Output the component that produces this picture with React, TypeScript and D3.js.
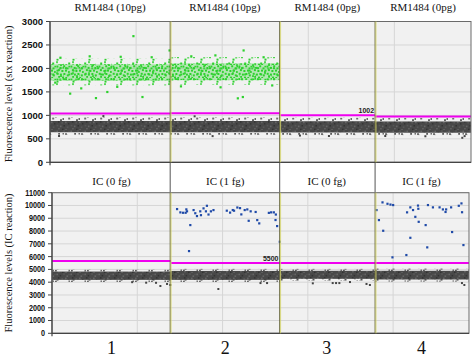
import React from "react";
import * as d3 from "d3";

// ---- data ----
const wellEvents = [6980, 6360, 5540, 5570];
const eventGrid = [5000, 10000, 15000, 20000];
const wellNumbers = ["1", "2", "3", "4"];
const topTitles = ["RM1484 (10pg)", "RM1484 (10pg)", "RM1484 (0pg)", "RM1484 (0pg)"];
const bottomTitles = ["IC (0 fg)", "IC (1 fg)", "IC (0 fg)", "IC (1 fg)"];
const topTicks = [0, 500, 1000, 1500, 2000, 2500, 3000];
const bottomTicks = [0, 1000, 2000, 3000, 4000, 5000, 6000, 7000, 8000, 9000, 10000, 11000];
const topThresholds = [1040, 1045, 1002, 975];
const bottomThresholds = [5650, 5500, 5500, 5500];
const topThresholdLabel = { well: 2, text: "1002" };
const bottomThresholdLabel = { well: 1, text: "5500" };

// negative / positive droplet bands per well [low, high]
const topNegCore: [number, number][] = [[640, 880], [640, 880], [635, 875], [630, 870]];
const topNegSpread: [number, number][] = [[585, 960], [585, 960], [580, 950], [580, 945]];
const topPosCore: ([number, number] | null)[] = [[1740, 2090], [1750, 2110], null, null];
const topPosSpread: ([number, number] | null)[] = [[1640, 2210], [1650, 2240], null, null];
const bottomNegCore: [number, number][] = [[4180, 4830], [4180, 4880], [4260, 4890], [4210, 4890]];
const bottomNegSpread: [number, number][] = [[4020, 4980], [4020, 5040], [4100, 5040], [4050, 5060]];

// individual droplets [event index, amplitude]
const topPosPoints: [number, number][] = [
  [4839, 2690], [6938, 2385], [1166, 1465], [2664, 1370], [3323, 1500], [5364, 1393],
  [1808, 1577], [11238, 2385], [10903, 1365], [11194, 1393], [600, 2230], [2300, 2260],
  [4100, 2250], [5900, 2240], [8200, 2260], [9600, 2280], [12400, 2240], [7600, 1620],
  [9900, 1600], [12900, 1640], [3900, 1610], [300, 1700],
];
const topNegPoints: [number, number][] = [
  [9444, 558], [24079, 558], [23944, 522], [19470, 560], [14517, 570], [525, 560],
  [3100, 985], [8400, 980], [16200, 560], [21800, 555],
];
const bottomPosPoints: [number, number][] = [
  [7328, 9726], [7521, 9468], [7678, 9437], [7830, 9437], [7871, 9703], [7911, 9550],
  [8104, 8474], [8028, 6440], [8296, 9648], [8395, 9400], [8494, 9178], [8687, 9550],
  [8728, 9250], [8879, 9781], [9019, 9550], [9077, 9984], [9171, 9300], [9311, 9550],
  [9462, 9648], [10243, 9600], [10436, 9450], [10593, 9650], [10861, 9850], [10669, 9600],
  [11019, 9800], [11095, 9310], [11293, 9650], [11445, 9700], [11527, 8810], [11643, 9550],
  [11935, 9500], [12028, 8865], [12145, 8607], [12709, 9430], [12843, 9470], [13001, 9470],
  [13118, 9300], [13100, 8870], [13194, 8396], [13351, 7170],
  [19023, 9648], [19163, 8865], [19373, 10250], [19414, 8030], [19665, 10140], [19840, 10080],
  [19997, 10040], [19956, 5950], [20772, 6130], [20813, 9470], [21005, 9860], [21005, 7480],
  [21163, 9650], [21297, 9120], [21454, 10000], [21472, 9750], [21495, 8730], [21903, 8474],
  [21996, 6730], [22037, 10040], [22329, 9860], [22719, 9860], [22912, 9700], [23069, 9500],
  [23104, 9700], [23454, 7930], [23396, 9860], [23845, 9984], [24002, 10170], [24037, 9480],
  [24118, 6910],
];
const bottomNegPoints: [number, number][] = [
  [6355, 3700], [6745, 3860], [6938, 3780], [5521, 3960], [9754, 3466], [12225, 3930],
  [12610, 3930], [15292, 3910], [16458, 3930], [16656, 3930], [16849, 3930], [17472, 4010],
  [18440, 3860], [18639, 3780], [24037, 3930], [24177, 3780], [6100, 3950], [4700, 4000],
];

const W = 474;
const H = 359;
const serif = "'Liberation Serif', 'Times New Roman', serif";
const sans = "'Liberation Sans', Arial, sans-serif";

const totalEvents = d3.sum(wellEvents);
const wellEnds = Array.from(d3.cumsum(wellEvents));
const wellStarts = [0, ...wellEnds.slice(0, -1)];

type PanelProps = {
  id: string;
  x0: number; x1: number; yTop: number; yBot: number; max: number;
  ticks: number[];
  thresholds: number[];
  thLabel: { well: number; text: string };
  negCore: [number, number][];
  negSpread: [number, number][];
  posCore?: ([number, number] | null)[];
  posSpread?: ([number, number] | null)[];
  posPoints: [number, number][];
  negPoints: [number, number][];
  posColor: string;
  tickFont: number;
  tickStretch?: number;
};

function Panel(p: PanelProps) {
  const x = d3.scaleLinear().domain([0, totalEvents]).range([p.x0, p.x1]);
  const y = d3.scaleLinear().domain([0, p.max]).range([p.yBot, p.yTop]);
  return (
    <g>
      <rect x={p.x0} y={p.yTop} width={p.x1 - p.x0} height={p.yBot - p.yTop} fill="#f1f1f1" />
      {p.ticks.slice(1).map((t) => (
        <line key={"h" + t} x1={p.x0} x2={p.x1} y1={y(t)} y2={y(t)} stroke="#d6d6d6" strokeWidth={1} />
      ))}
      {eventGrid.map((e) => (
        <line key={"v" + e} x1={x(e)} x2={x(e)} y1={p.yTop} y2={p.yBot} stroke="#d6d6d6" strokeWidth={1} />
      ))}
      {wellEvents.map((_, i) => (
        <g key={"n" + i}>
          <rect x={x(wellStarts[i])} width={x(wellEnds[i]) - x(wellStarts[i])}
            y={y(p.negSpread[i][1])} height={y(p.negSpread[i][0]) - y(p.negSpread[i][1])}
            fill={`url(#${p.id}negSparse)`} />
          <rect x={x(wellStarts[i])} width={x(wellEnds[i]) - x(wellStarts[i])}
            y={y(p.negCore[i][1])} height={y(p.negCore[i][0]) - y(p.negCore[i][1])}
            fill={`url(#${p.id}negDense)`} />
        </g>
      ))}
      {p.posCore && p.posCore.map((c, i) => c && p.posSpread && p.posSpread[i] ? (
        <g key={"p" + i}>
          <rect x={x(wellStarts[i])} width={x(wellEnds[i]) - x(wellStarts[i])}
            y={y(p.posSpread[i]![1])} height={y(p.posSpread[i]![0]) - y(p.posSpread[i]![1])}
            fill={`url(#${p.id}posSparse)`} />
          <rect x={x(wellStarts[i])} width={x(wellEnds[i]) - x(wellStarts[i])}
            y={y(c[1])} height={y(c[0]) - y(c[1])}
            fill={`url(#${p.id}posDense)`} />
        </g>
      ) : null)}
      {p.negPoints.map((d, i) => (
        <rect key={"np" + i} x={x(d[0]) - 1} y={y(d[1]) - 1} width={2} height={2} fill="#444" />
      ))}
      {p.posPoints.map((d, i) => (
        <rect key={"pp" + i} x={x(d[0]) - 1} y={y(d[1]) - 1} width={2.2} height={2.2} fill={p.posColor} />
      ))}
      {p.thresholds.map((t, i) => (
        <line key={"t" + i} x1={x(wellStarts[i])} x2={x(wellEnds[i])} y1={y(t)} y2={y(t)}
          stroke="#f000f0" strokeWidth={2} />
      ))}
      <text x={x(wellEnds[p.thLabel.well]) - 1} y={y(p.thresholds[p.thLabel.well]) - 2.5}
        textAnchor="end" fontFamily={sans} fontSize={7} fontWeight="bold" fill="#222">{p.thLabel.text}</text>
      <rect x={p.x0} y={p.yTop} width={p.x1 - p.x0} height={p.yBot - p.yTop} fill="none" stroke="#6a6a6a" strokeWidth={1} />
      <line x1={p.x0} x2={p.x0} y1={p.yTop} y2={p.yBot + 3} stroke="#444" strokeWidth={1.2} />
      <line x1={p.x0} x2={p.x1} y1={p.yBot} y2={p.yBot} stroke="#444" strokeWidth={1.2} />
      {p.ticks.map((t) => (
        <g key={"k" + t}>
          <line x1={p.x0 - 4} x2={p.x0} y1={y(t)} y2={y(t)} stroke="#444" strokeWidth={1} />
          <text x={p.x0 - 7} y={y(t)} dy="0.35em" textAnchor="end" fontFamily={sans}
            fontSize={p.tickFont} fontWeight="bold" fill="#111"
            transform={p.tickStretch ? `translate(${p.x0 - 7},0) scale(${p.tickStretch},1) translate(${-(p.x0 - 7)},0)` : undefined}>
            {t}
          </text>
        </g>
      ))}
    </g>
  );
}

// irregular speckle layouts for the droplet-cloud textures (styling only)
const denseSpots: [number, number, number][] = [
  [0.4, 0.6, 2], [3.6, 1.9, 2], [7.2, 0.3, 2], [10.5, 2.4, 2], [1.9, 4.1, 2], [5.4, 5.0, 2],
  [9.0, 4.6, 2], [12.0, 6.1, 1.8], [0.7, 7.8, 2], [3.9, 8.6, 2], [7.4, 8.0, 2], [10.8, 9.4, 2],
  [2.2, 11.0, 1.8], [6.0, 11.6, 2], [12.4, 0.8, 1.6], [9.3, 12.0, 1.8],
];
const sparseSpots: [number, number, number][] = [
  [1.0, 1.2, 2], [8.5, 3.6, 2], [4.2, 7.5, 2], [12.1, 9.2, 1.8], [14.5, 1.0, 1.6],
];

function Patterns({ id, posColor }: { id: string; posColor: string }) {
  return (
    <>
      <pattern id={id + "negDense"} width={14} height={13} patternUnits="userSpaceOnUse">
        <rect width={14} height={13} fill="#484848" />
        {denseSpots.map((s, i) => (
          <rect key={i} x={s[0]} y={s[1]} width={s[2] * 0.8} height={s[2] * 0.8}
            fill={i % 3 === 0 ? "#656565" : i % 3 === 1 ? "#333" : "#575757"} />
        ))}
      </pattern>
      <pattern id={id + "negSparse"} width={16} height={11} patternUnits="userSpaceOnUse">
        {sparseSpots.map((s, i) => (
          <rect key={i} x={s[0]} y={s[1]} width={s[2]} height={s[2]} fill={i % 2 ? "#555" : "#6e6e6e"} />
        ))}
        {sparseSpots.map((s, i) => (
          <rect key={"b" + i} x={(s[0] + 6) % 16} y={(s[1] + 4.5) % 11} width={s[2] * 0.9} height={s[2] * 0.9} fill="#5a5a5a" />
        ))}
      </pattern>
      <pattern id={id + "posDense"} width={14} height={13} patternUnits="userSpaceOnUse">
        <rect width={14} height={13} fill={posColor} opacity={0.32} />
        {denseSpots.map((s, i) => (
          <rect key={i} x={s[0]} y={s[1]} width={s[2]} height={s[2]} fill={posColor} />
        ))}
      </pattern>
      <pattern id={id + "posSparse"} width={16} height={11} patternUnits="userSpaceOnUse">
        {sparseSpots.map((s, i) => (
          <rect key={i} x={s[0]} y={s[1]} width={s[2]} height={s[2]} fill={posColor} />
        ))}
        {sparseSpots.slice(0, 3).map((s, i) => (
          <rect key={"b" + i} x={(s[0] + 7) % 16} y={(s[1] + 5) % 11} width={s[2]} height={s[2]} fill={posColor} opacity={0.8} />
        ))}
      </pattern>
    </>
  );
}

export default function App() {
  const top = { x0: 50, x1: 471, yTop: 21.5, yBot: 162.3 };
  const bot = { x0: 52, x1: 469, yTop: 192.7, yBot: 333.3 };
  const xTop = d3.scaleLinear().domain([0, totalEvents]).range([top.x0, top.x1]);
  const xBot = d3.scaleLinear().domain([0, totalEvents]).range([bot.x0, bot.x1]);
  const green = "#2ed12e";
  return (
    <svg width={W} height={H} style={{ position: "absolute", left: 0, top: 0, background: "#fff" }}>
      <defs>
        <Patterns id="a" posColor={green} />
        <Patterns id="b" posColor="#1f4aa8" />
      </defs>
      <rect width={W} height={H} fill="#fff" />
      {topTitles.map((t, i) => (
        <text key={"tt" + i} x={(xTop(wellStarts[i]) + xTop(wellEnds[i])) / 2} y={10.5}
          textAnchor="middle" fontFamily={serif} fontSize={11} fill="#111">{t}</text>
      ))}
      {bottomTitles.map((t, i) => (
        <text key={"bt" + i} x={(xBot(wellStarts[i]) + xBot(wellEnds[i])) / 2} y={184.5}
          textAnchor="middle" fontFamily={serif} fontSize={11} fill="#111">{t}</text>
      ))}
      {wellNumbers.map((t, i) => (
        <text key={"wn" + i} x={(xBot(wellStarts[i]) + xBot(wellEnds[i])) / 2} y={353.5}
          textAnchor="middle" fontFamily={serif} fontSize={18} fill="#111">{t}</text>
      ))}
      {wellEnds.slice(0, -1).map((e, i) => (
        <line key={"dv" + i} x1={xTop(e)} x2={xTop(e)} y1={top.yTop} y2={bot.yBot}
          stroke="#555" strokeWidth={1} />
      ))}
      <Panel id="a" {...top} max={3000} ticks={topTicks} thresholds={topThresholds}
        thLabel={topThresholdLabel} negCore={topNegCore} negSpread={topNegSpread}
        posCore={topPosCore} posSpread={topPosSpread} posPoints={topPosPoints}
        negPoints={topNegPoints} posColor={green} tickFont={9.5} />
      <Panel id="b" {...bot} max={11000} ticks={bottomTicks} thresholds={bottomThresholds}
        thLabel={bottomThresholdLabel} negCore={bottomNegCore} negSpread={bottomNegSpread}
        posPoints={bottomPosPoints} negPoints={bottomNegPoints} posColor="#1f4aa8"
        tickFont={8.5} tickStretch={0.85} />
      {wellEnds.slice(0, -1).map((e, i) => (
        <g key={"dp" + i}>
          <line x1={xTop(e)} x2={xTop(e)} y1={top.yTop} y2={top.yBot} stroke="#66663a" strokeWidth={1} />
          <line x1={xTop(e) + 0.9} x2={xTop(e) + 0.9} y1={top.yTop} y2={top.yBot} stroke="#d9d96a" strokeWidth={0.8} />
          <line x1={xTop(e)} x2={xTop(e)} y1={bot.yTop} y2={bot.yBot} stroke="#66663a" strokeWidth={1} />
          <line x1={xTop(e) + 0.9} x2={xTop(e) + 0.9} y1={bot.yTop} y2={bot.yBot} stroke="#d9d96a" strokeWidth={0.8} />
        </g>
      ))}
      <text transform={`translate(8,${(top.yTop + top.yBot) / 2 + 2}) rotate(-90)`} textAnchor="middle"
        dominantBaseline="central" fontFamily={serif} fontSize={10.5} fill="#111">
        Fluorescence level (stx reaction)
      </text>
      <text transform={`translate(8,${(bot.yTop + bot.yBot) / 2}) rotate(-90)`} textAnchor="middle"
        dominantBaseline="central" fontFamily={serif} fontSize={10.5} fill="#111">
        Fluorescence levels (IC reaction)
      </text>
    </svg>
  );
}
